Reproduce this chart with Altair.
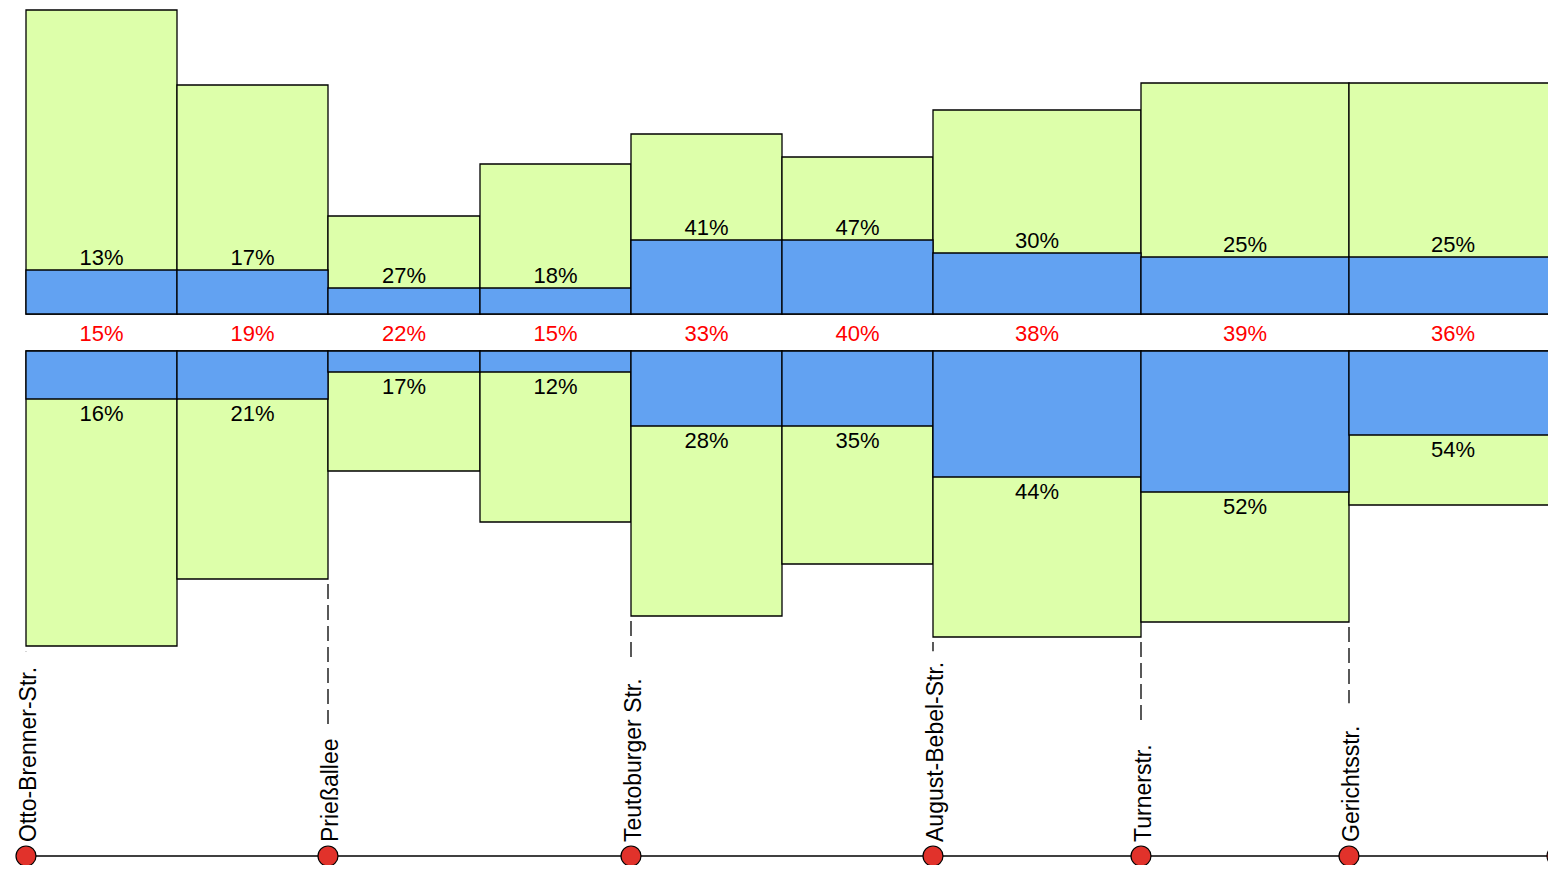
import altair as alt
import pandas as pd

# ---- data -------------------------------------------------------------
# route sections (position along the line, drawing units)
seg_start = [0, 151, 302, 454, 605, 756, 907, 1115, 1323]
seg_end = [151, 302, 454, 605, 756, 907, 1115, 1323, 1531]

# upper direction: total volume and highlighted part
up_total = [304, 229, 98, 150, 180, 157, 204, 231, 231]
up_part = [44, 44, 26, 26, 74, 74, 61, 57, 57]
up_share = [13, 17, 27, 18, 41, 47, 30, 25, 25]

# both directions combined share (red)
both_share = [15, 19, 22, 15, 33, 40, 38, 39, 36]

# lower direction: total volume and highlighted part
down_total = [295, 228, 120, 171, 265, 213, 286, 271, 154]
down_part = [48, 48, 21, 21, 75, 75, 126, 141, 84]
down_share = [16, 21, 17, 12, 28, 35, 44, 52, 54]

# stops
stop_names = ["Otto-Brenner-Str.", "Prießallee", "Teutoburger Str.",
              "August-Bebel-Str.", "Turnerstr.", "Gerichtsstr.", "Niederwall"]
stop_pos = [0, 302, 605, 907, 1115, 1323, 1531]

# ---- layout / style ---------------------------------------------------
W, H = 1540, 857
GAP = 37          # space between the upper and lower bar baselines
LINE = -542       # level of the stop line
TXT0 = -528       # level where the stop names start
XDOM = [-18, W - 18]
YDOM = [306 - H, 306]
GREEN = "#ddffaa"
BLUE = "#62a2f2"
FONT = "Liberation Sans, Arial, sans-serif"

seg = pd.DataFrame({
    "start": seg_start, "end": seg_end,
    "up_total": up_total, "up_part": up_part, "up_share": up_share,
    "both_share": both_share,
    "down_total": down_total, "down_part": down_part, "down_share": down_share,
})

# deepest adjacent lower bar for each stop (start point of the dashed guide)
max_bot = []
for p in stop_pos:
    vals = [t for s, e, t in zip(seg_start, seg_end, down_total) if s == p or e == p]
    max_bot.append(max(vals))
stops = pd.DataFrame({"name": stop_names, "pos": stop_pos, "maxbot": max_bot})

xs = alt.Scale(domain=XDOM, nice=False, zero=False)
ys = alt.Scale(domain=YDOM, nice=False, zero=False)

base = alt.Chart(seg).transform_calculate(
    zero="0",
    mid="(datum.start + datum.end) / 2",
    dn_base=f"-{GAP}",
    dn_total_y=f"-{GAP} - datum.down_total",
    dn_part_y=f"-{GAP} - datum.down_part",
    mid_y=f"-{GAP} / 2",
    lab_up="datum.up_share + '%'",
    lab_mid="datum.both_share + '%'",
    lab_dn="datum.down_share + '%'",
)

X = alt.X("start:Q", scale=xs, axis=None)
X2 = alt.X2("end:Q")

rect_style = dict(stroke="black", strokeWidth=1.3)

green_up = base.mark_rect(fill=GREEN, **rect_style).encode(
    x=X, x2=X2, y=alt.Y("zero:Q", scale=ys, axis=None), y2="up_total:Q")
blue_up = base.mark_rect(fill=BLUE, **rect_style).encode(
    x=X, x2=X2, y=alt.Y("zero:Q", scale=ys, axis=None), y2="up_part:Q")
green_dn = base.mark_rect(fill=GREEN, **rect_style).encode(
    x=X, x2=X2, y=alt.Y("dn_base:Q", scale=ys, axis=None), y2="dn_total_y:Q")
blue_dn = base.mark_rect(fill=BLUE, **rect_style).encode(
    x=X, x2=X2, y=alt.Y("dn_base:Q", scale=ys, axis=None), y2="dn_part_y:Q")

XM = alt.X("mid:Q", scale=xs, axis=None)
txt_style = dict(font=FONT, fontSize=22, align="center", baseline="alphabetic")

txt_up = base.mark_text(color="black", dy=-5, **txt_style).encode(
    x=XM, y=alt.Y("up_part:Q", scale=ys, axis=None), text="lab_up:N")
txt_mid = base.mark_text(color="#ff0000", dy=8, **txt_style).encode(
    x=XM, y=alt.Y("mid_y:Q", scale=ys, axis=None), text="lab_mid:N")
txt_dn = base.mark_text(color="black", dy=22, **txt_style).encode(
    x=XM, y=alt.Y("dn_part_y:Q", scale=ys, axis=None), text="lab_dn:N")

sbase = alt.Chart(stops).transform_calculate(
    line_y=f"{LINE}",
    txt_y=f"{TXT0}",
    dash_a=f"-{GAP} - datum.maxbot - 5",
    dash_b=f"{TXT0} + length(datum.name) * 10.4 + 14",
)
XS = alt.X("pos:Q", scale=xs, axis=None)

dashes = sbase.transform_filter("datum.dash_b < datum.dash_a").mark_rule(
    color="black", strokeWidth=1.3, strokeDash=[15, 6]).encode(
    x=XS, y=alt.Y("dash_a:Q", scale=ys, axis=None), y2="dash_b:Q")

stop_line = sbase.mark_line(color="black", strokeWidth=1.5).encode(
    x=XS, y=alt.Y("line_y:Q", scale=ys, axis=None))

stop_dots = sbase.mark_circle(size=400, fill="#e1322b", stroke="black",
                              strokeWidth=1.2, opacity=1).encode(
    x=XS, y=alt.Y("line_y:Q", scale=ys, axis=None))

stop_text = sbase.mark_text(font=FONT, fontSize=23, angle=270, align="left",
                            baseline="alphabetic", dy=10,
                            color="black").encode(
    x=XS, y=alt.Y("txt_y:Q", scale=ys, axis=None), text="name:N")

chart = alt.layer(
    green_up, blue_up, green_dn, blue_dn,
    txt_up, txt_mid, txt_dn,
    dashes, stop_line, stop_dots, stop_text,
).properties(
    width=W, height=H, padding=0,
    autosize=alt.AutoSizeParams(type="none"),
).configure_view(stroke=None)

chart.save("out.html", embed_options={"renderer": "svg", "actions": False})
